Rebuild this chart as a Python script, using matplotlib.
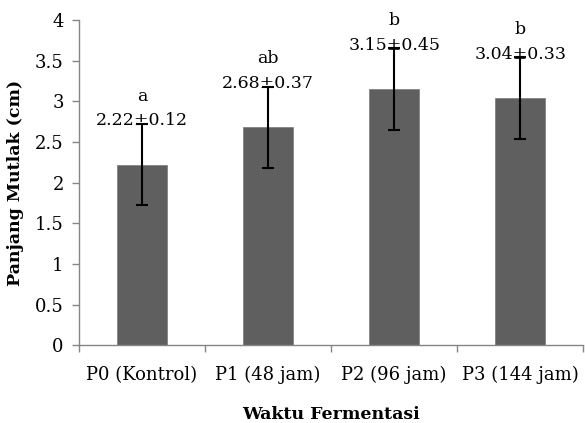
import matplotlib
matplotlib.use('Agg')
import matplotlib.pyplot as plt
import numpy as np

plt.rcParams['font.family'] = ['DejaVu Serif']

kategori = ['P0 (Kontrol)', 'P1 (48 jam)', 'P2 (96 jam)', 'P3 (144 jam)']
rata = [2.22, 2.68, 3.15, 3.04]
sd = [0.12, 0.37, 0.45, 0.33]
galat = [0.5, 0.5, 0.5, 0.5]
notasi = ['a', 'ab', 'b', 'b']

fig = plt.figure(figsize=(5.85, 4.23), dpi=100)
ax = fig.add_axes([0.135, 0.184, 0.862, 0.769])

x = np.arange(len(kategori))
ax.bar(x, rata, width=0.4, color='#5f5f5f', edgecolor='#7a7a7a', linewidth=0.5,
       yerr=galat, error_kw=dict(ecolor='black', elinewidth=1.5, capsize=4.5, capthick=1.5))

for xi, m, s, n in zip(x, rata, sd, notasi):
    ax.text(xi, m + 0.54, f'{m:.2f}\u00b1{s:.2f}', ha='center', va='center', fontsize=12.5)
    ax.text(xi, m + 0.84, n, ha='center', va='center', fontsize=12.5)

ax.set_xlim(-0.5, 3.5)
ax.set_ylim(0, 4)
ax.set_yticks(np.arange(0, 4.01, 0.5))
ax.set_yticklabels(['0', '0.5', '1', '1.5', '2', '2.5', '3', '3.5', '4'])
ax.set_xticks(x)
ax.set_xticklabels(kategori)
ax.set_xticks(np.arange(-0.5, 3.6, 1), minor=True)
ax.tick_params(axis='x', which='major', length=0, labelsize=13, pad=15)
ax.tick_params(axis='x', which='minor', length=5, width=1, color='#868686', direction='out')
ax.tick_params(axis='y', length=5, width=1, color='#868686', labelsize=13, pad=6)

for sp in ['top', 'right']:
    ax.spines[sp].set_visible(False)
for sp in ['left', 'bottom']:
    ax.spines[sp].set_color('#868686')
    ax.spines[sp].set_linewidth(1)

ax.set_ylabel('Panjang Mutlak (cm)', fontsize=12.5, fontweight='bold', labelpad=8)
ax.set_xlabel('Waktu Fermentasi', fontsize=12.5, fontweight='bold', labelpad=16)

fig.savefig('out.png', dpi=100)
